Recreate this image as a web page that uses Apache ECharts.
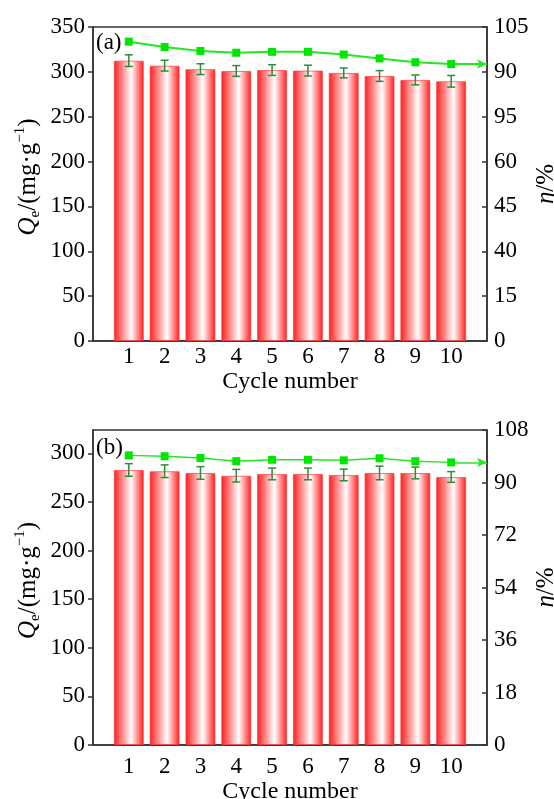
<!DOCTYPE html>
<html>
<head>
<meta charset="utf-8">
<title>Cycle number</title>
<script src="https://cdn.jsdelivr.net/npm/echarts@6/dist/echarts.min.js"></script>
<style type="text/css">
html, body {margin: 0; padding: 0; background: #fff; overflow: hidden;}
#main {width: 554px; height: 799px;}
</style>
</head>
<body>
<div id="main"></div>
<script type="text/javascript">
// 数据
var cycles = [1, 2, 3, 4, 5, 6, 7, 8, 9, 10];
var qeA = [312.5, 306.9, 303, 301, 302, 301.4, 298.8, 295.4, 291, 289.5];
var qeErrA = [6.5, 6, 6, 6, 6, 6, 5.5, 6, 5.5, 6.5];
var etaA = [100.1, 98.3, 97.0, 96.4, 96.7, 96.7, 95.8, 94.5, 93.2, 92.6];
var qeB = [282.9, 281.6, 279.8, 277, 278.8, 278.8, 277.8, 279.8, 279.8, 275.7];
var qeErrB = [6.5, 6.5, 6.5, 6.5, 6, 6, 6, 7, 6, 5.5];
var etaB = [99.3, 99.0, 98.4, 97.3, 97.8, 97.8, 97.6, 98.3, 97.3, 96.9];
// 右轴刻度标签（按原图）
var etaLabelsA = ['0', '15', '40', '45', '60', '95', '90', '105'];
var etaLabelsB = ['0', '18', '36', '54', '72', '90', '108'];

var FONT = 'Liberation Serif';
var AX = '#333';

var barColor = new echarts.graphic.LinearGradient(0, 0, 1, 0, [
    {offset: 0, color: '#ff1a1a'},
    {offset: 0.58, color: '#ffffff'},
    {offset: 1, color: '#ff1a1a'}
]);

function pairs(xs, ys) {
    return xs.map(function (x, i) { return [x, ys[i]]; });
}
function errData(xs, ys, es) {
    return xs.map(function (x, i) { return [x, ys[i], es[i]]; });
}
function renderErr(params, api) {
    var x = api.value(0), v = api.value(1), e = api.value(2);
    var hi = api.coord([x, v + e]);
    var lo = api.coord([x, v - e]);
    var w = 4;
    var st = {stroke: '#2e8b3a', lineWidth: 1.5};
    return {
        type: 'group',
        children: [
            {type: 'line', shape: {x1: hi[0], y1: hi[1], x2: lo[0], y2: lo[1]}, style: st},
            {type: 'line', shape: {x1: hi[0] - w, y1: hi[1], x2: hi[0] + w, y2: hi[1]}, style: st},
            {type: 'line', shape: {x1: lo[0] - w, y1: lo[1], x2: lo[0] + w, y2: lo[1]}, style: st}
        ]
    };
}

var nameStyle = {
    fontFamily: FONT, fontSize: 25, color: '#000', lineHeight: 30,
    padding: [0, 0, 0, 14],
    rich: {
        q: {fontFamily: FONT, fontSize: 25, fontStyle: 'italic', color: '#000', lineHeight: 30},
        n: {fontFamily: FONT, fontSize: 25, color: '#000', lineHeight: 30},
        sub: {fontFamily: FONT, fontSize: 15, color: '#000', verticalAlign: 'bottom', lineHeight: 30},
        sup: {fontFamily: FONT, fontSize: 15, color: '#000', verticalAlign: 'top', lineHeight: 30}
    }
};
var labelStyle = {fontFamily: FONT, fontSize: 23, color: '#000'};

function xAxisCfg(idx, margin, gap) {
    return {
        type: 'value', gridIndex: idx, min: 0, max: 11, interval: 1,
        name: 'Cycle number', nameLocation: 'middle', nameGap: gap,
        nameTextStyle: {fontFamily: FONT, fontSize: 24, color: '#000'},
        axisLine: {lineStyle: {color: AX, width: 1.5}},
        axisTick: {show: false},
        splitLine: {show: false},
        axisLabel: Object.assign({margin: margin, formatter: function (v) {
            return (v >= 1 && v <= 10) ? String(v) : '';
        }}, labelStyle)
    };
}
function leftAxisCfg(idx, max) {
    return {
        type: 'value', gridIndex: idx, min: 0, max: max, interval: 50, position: 'left',
        name: '{q|Q}{sub|e}{n|/(mg·g}{sup|−1}{n|)}', nameLocation: 'middle', nameGap: 50, nameRotate: 90,
        nameMoveOverlap: false,
        nameTextStyle: nameStyle,
        axisLine: {show: true, lineStyle: {color: AX, width: 1.5}},
        axisTick: {show: true, length: 5, lineStyle: {color: AX, width: 1.5}},
        splitLine: {show: false},
        axisLabel: Object.assign({margin: 8, showMaxLabel: max % 50 === 0, formatter: function (v) {
            return v % 50 === 0 ? String(v) : '';
        }}, labelStyle)
    };
}
function rightAxisCfg(idx, step, labels) {
    return {
        type: 'value', gridIndex: idx, min: 0, max: step * (labels.length - 1), interval: step, position: 'right',
        name: '{q|η}{n|/%}', nameLocation: 'middle', nameGap: 44, nameRotate: 90,
        nameMoveOverlap: false,
        nameTextStyle: Object.assign({}, nameStyle, {padding: 0}),
        axisLine: {show: true, lineStyle: {color: AX, width: 1.5}},
        axisTick: {show: true, inside: true, length: 5, lineStyle: {color: AX, width: 1.5}},
        splitLine: {show: false},
        axisLabel: Object.assign({margin: 7, formatter: function (v) {
            return labels[Math.round(v / step)];
        }}, labelStyle)
    };
}
function seriesFor(idx, qe, qeErr, eta) {
    var last = eta[eta.length - 1];
    return [
        {
            type: 'bar', xAxisIndex: idx, yAxisIndex: idx * 2, barWidth: 30,
            data: pairs(cycles, qe),
            itemStyle: {color: barColor, borderColor: 'rgba(255,60,60,0.7)', borderWidth: 1}
        },
        {
            type: 'custom', xAxisIndex: idx, yAxisIndex: idx * 2, z: 5,
            data: errData(cycles, qe, qeErr), renderItem: renderErr
        },
        {
            type: 'line', xAxisIndex: idx, yAxisIndex: idx * 2 + 1, z: 6,
            data: pairs(cycles, eta),
            symbol: 'rect', symbolSize: 8,
            lineStyle: {color: '#22e822', width: idx === 0 ? 2 : 1.5},
            itemStyle: {color: '#00e600'},
            markLine: {
                silent: true, symbol: ['none', 'arrow'], symbolSize: [7, 10],
                label: {show: false},
                lineStyle: {color: '#22e822', width: idx === 0 ? 2 : 1.5, type: 'solid'},
                data: [[{coord: [cycles[cycles.length - 1], last]}, {coord: [11, last]}]]
            }
        }
    ];
}

var myChart = echarts.init(document.getElementById('main'));
var option = {
    animation: false,
    backgroundColor: '#fff',
    grid: [
        {left: 93, width: 394, top: 27, height: 314, outerBoundsMode: 'none', containLabel: false,
         show: true, borderColor: AX, borderWidth: 1.5},
        {left: 93, width: 394, top: 430, height: 315, outerBoundsMode: 'none', containLabel: false,
         show: true, borderColor: AX, borderWidth: 1.5}
    ],
    graphic: [
        {type: 'text', left: 96, top: 31, style: {text: '(a)', font: '23px "Liberation Serif"', fill: '#000'}},
        {type: 'text', left: 96, top: 436, style: {text: '(b)', font: '23px "Liberation Serif"', fill: '#000'}}
    ],
    xAxis: [xAxisCfg(0, 4, 29), xAxisCfg(1, 10, 35)],
    yAxis: [
        leftAxisCfg(0, 350), rightAxisCfg(0, 15, etaLabelsA),
        leftAxisCfg(1, 324), rightAxisCfg(1, 18, etaLabelsB)
    ],
    series: seriesFor(0, qeA, qeErrA, etaA).concat(seriesFor(1, qeB, qeErrB, etaB))
};
myChart.setOption(option);
</script>
</body>
</html>
